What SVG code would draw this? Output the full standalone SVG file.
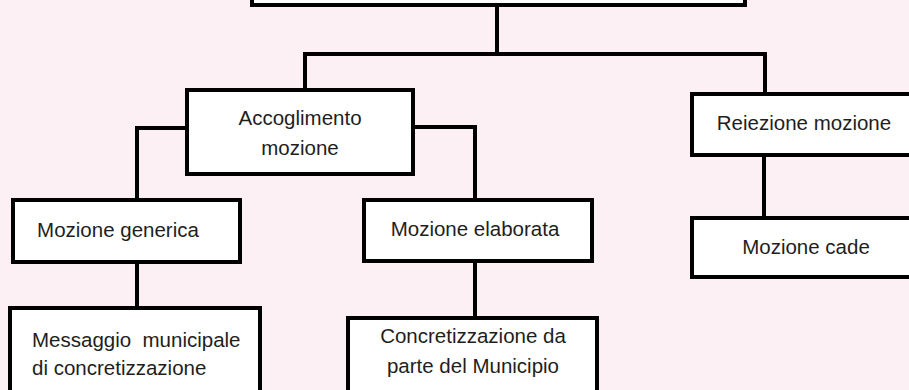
<svg xmlns="http://www.w3.org/2000/svg" width="909" height="390" viewBox="0 0 909 390">
<style>
.bg{fill:#fcf0f4}
.box{fill:#ffffff;stroke:#000000;stroke-width:4}
.ln{fill:none;stroke:#000000;stroke-width:4}
.t{font-family:"Liberation Sans",Arial,sans-serif;font-size:20.5px;fill:#1e1e1e;text-anchor:middle}
.s{text-anchor:start;white-space:pre}
</style>
<rect class="bg" x="0" y="0" width="909" height="390"/>
<g id="connectors">
<polyline class="ln" points="497,5 497,54"/>
<polyline class="ln" points="305,90 305,54 765,54 765,94"/>
<polyline class="ln" points="187,128 137,128 137,200"/>
<polyline class="ln" points="413,127 475,127 475,200"/>
<polyline class="ln" points="137,262 137,308"/>
<polyline class="ln" points="475,261 475,318"/>
<polyline class="ln" points="764,155 764,218"/>
</g>
<g id="top">
<rect class="box" x="252" y="-50" width="493" height="55"/>
</g>
<g id="accoglimento">
<rect class="box" x="187" y="90" width="226" height="84"/>
<text class="t" x="300" y="125">Accoglimento</text>
<text class="t" x="300" y="155">mozione</text>
</g>
<g id="reiezione">
<rect class="box" x="692" y="94" width="240" height="61"/>
<text class="t" x="804" y="130">Reiezione mozione</text>
</g>
<g id="generica">
<rect class="box" x="13" y="200" width="227" height="62"/>
<text class="t" x="118" y="237">Mozione generica</text>
</g>
<g id="elaborata">
<rect class="box" x="364" y="200" width="228" height="61"/>
<text class="t" x="475" y="236">Mozione elaborata</text>
</g>
<g id="cade">
<rect class="box" x="692" y="218" width="240" height="59"/>
<text class="t" x="806" y="254">Mozione cade</text>
</g>
<g id="messaggio">
<rect class="box" x="10" y="308" width="250" height="100"/>
<text class="t s" x="32" y="347">Messaggio  municipale</text>
<text class="t s" x="32" y="375">di concretizzazione</text>
</g>
<g id="concretizzazione">
<rect class="box" x="348" y="318" width="249" height="90"/>
<text class="t" x="473" y="343">Concretizzazione da</text>
<text class="t" x="473" y="373">parte del Municipio</text>
</g>
</svg>
